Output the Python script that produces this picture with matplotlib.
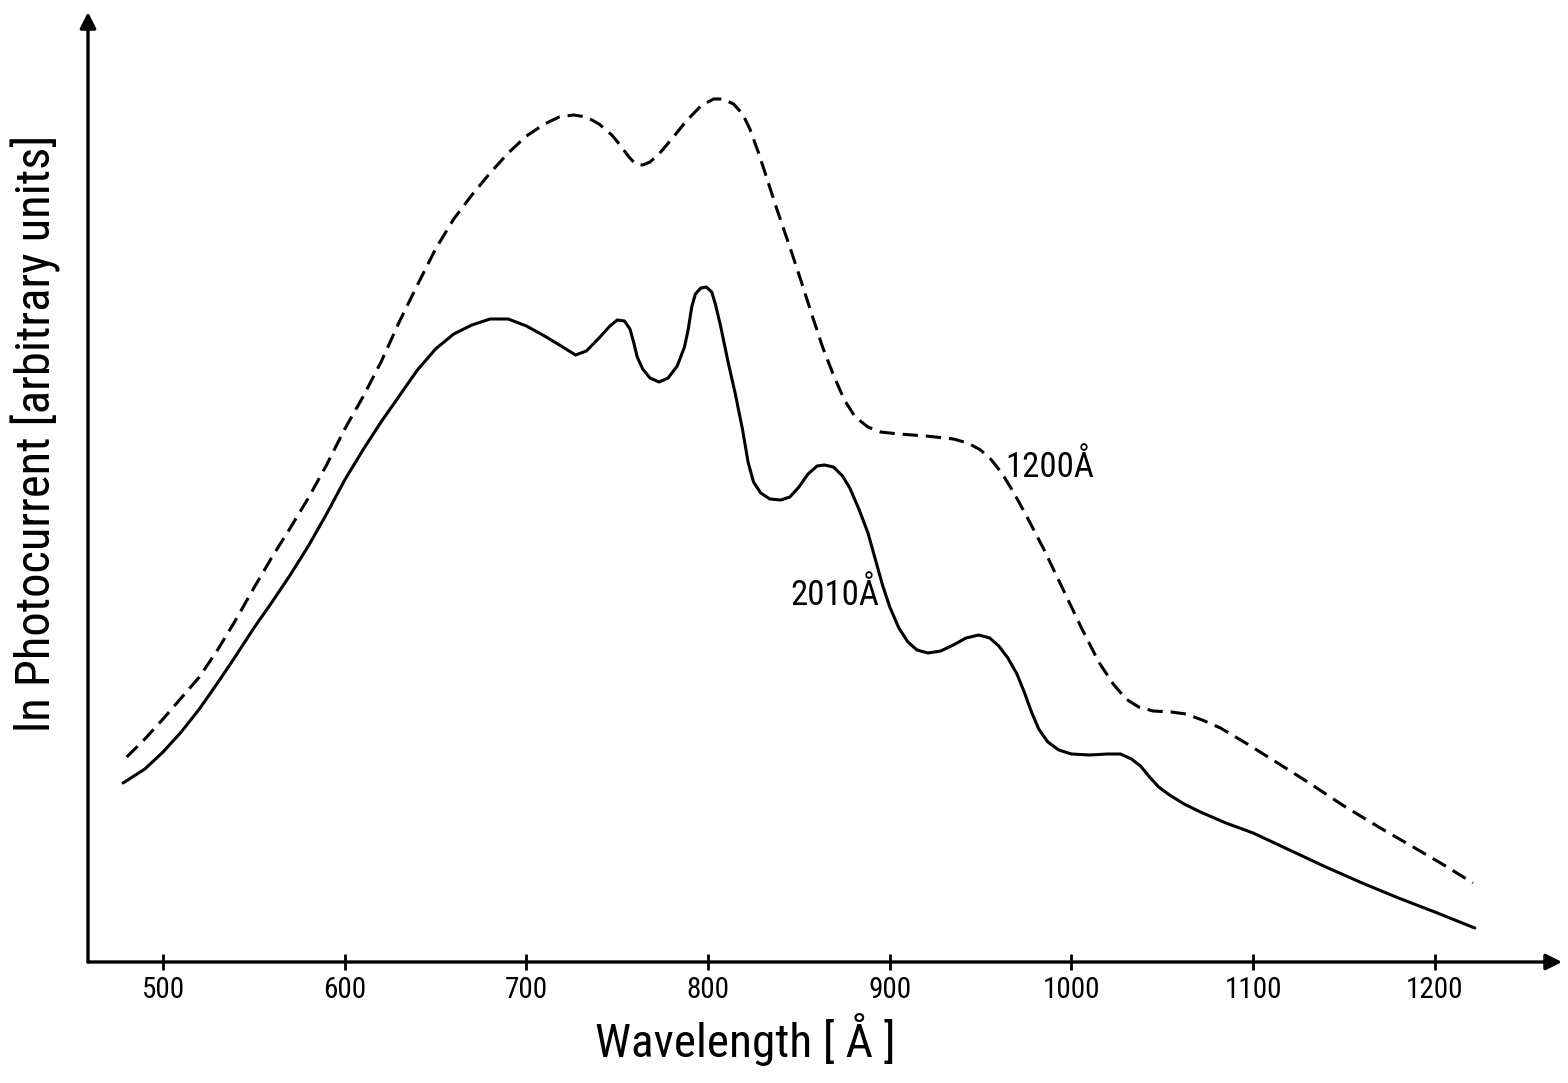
import matplotlib
matplotlib.use("Agg")
import matplotlib.pyplot as plt
from matplotlib import font_manager as fm

# ---- data ----
wl_2010 = [478, 490, 500, 510, 520, 530, 540, 550, 560, 570, 580, 590, 600, 610, 620, 630,
           640, 650, 660, 670, 680, 690, 700, 710, 720, 727, 733, 740, 746, 750, 754, 757,
           759, 761, 764, 768, 773, 778, 783, 787, 789, 791, 793, 796, 799, 802, 804, 807,
           811, 815, 819, 822, 825, 829, 834, 840, 845, 850, 855, 860, 864, 869, 874, 878,
           883, 888, 892, 896, 900, 905, 910, 915, 921, 928, 935, 942, 949, 955, 960, 965,
           970, 974, 978, 982, 987, 993, 1000, 1010, 1020, 1027, 1033, 1038, 1043, 1048,
           1054, 1062, 1071, 1085, 1100, 1120, 1140, 1160, 1180, 1200, 1222]
pc_2010 = [1.79, 1.93, 2.10, 2.30, 2.53, 2.79, 3.06, 3.34, 3.60, 3.87, 4.16, 4.48, 4.82, 5.12,
           5.40, 5.66, 5.92, 6.13, 6.28, 6.37, 6.43, 6.43, 6.36, 6.26, 6.15, 6.07, 6.11, 6.24,
           6.36, 6.42, 6.41, 6.33, 6.20, 6.05, 5.93, 5.84, 5.80, 5.84, 5.96, 6.15, 6.32, 6.55,
           6.68, 6.74, 6.75, 6.70, 6.58, 6.35, 6.00, 5.68, 5.32, 5.00, 4.80, 4.69, 4.63, 4.62,
           4.65, 4.75, 4.88, 4.96, 4.97, 4.95, 4.86, 4.74, 4.53, 4.29, 4.03, 3.77, 3.55, 3.34,
           3.20, 3.12, 3.09, 3.11, 3.17, 3.24, 3.27, 3.24, 3.16, 3.04, 2.88, 2.70, 2.50, 2.33,
           2.20, 2.12, 2.08, 2.07, 2.08, 2.08, 2.03, 1.96, 1.85, 1.75, 1.67, 1.58, 1.50, 1.39,
           1.29, 1.12, 0.95, 0.79, 0.64, 0.50, 0.34]

wl_1200 = [480, 490, 500, 510, 520, 530, 540, 550, 560, 570, 580, 590, 600, 610, 620, 630,
           640, 650, 660, 670, 680, 690, 700, 710, 718, 726, 733, 740, 747, 752, 756, 760,
           764, 768, 773, 780, 788, 796, 803, 808, 814, 819, 823, 828, 833, 838, 845, 851,
           857, 863, 869, 875, 881, 888, 895, 905, 920, 935, 943, 950, 956, 962, 968, 975,
           985, 995, 1005, 1015, 1023, 1030, 1037, 1045, 1055, 1063, 1072, 1082, 1095, 1110,
           1130, 1150, 1170, 1190, 1205, 1221]
pc_1200 = [2.05, 2.23, 2.43, 2.64, 2.85, 3.12, 3.42, 3.74, 4.05, 4.34, 4.64, 4.97, 5.33, 5.65,
           6.00, 6.40, 6.77, 7.13, 7.43, 7.67, 7.89, 8.09, 8.26, 8.38, 8.45, 8.47, 8.45, 8.38,
           8.27, 8.16, 8.06, 7.98, 7.97, 8.00, 8.08, 8.23, 8.41, 8.56, 8.63, 8.63, 8.58, 8.48,
           8.33, 8.08, 7.80, 7.52, 7.15, 6.82, 6.48, 6.15, 5.87, 5.62, 5.45, 5.35, 5.30, 5.28,
           5.26, 5.23, 5.19, 5.12, 5.02, 4.88, 4.70, 4.47, 4.12, 3.74, 3.36, 3.00, 2.78, 2.63,
           2.55, 2.51, 2.50, 2.48, 2.42, 2.34, 2.20, 2.03, 1.80, 1.56, 1.34, 1.13, 0.97, 0.79]

xticks = [500, 600, 700, 800, 900, 1000, 1100, 1200]
xlabel = "Wavelength [ Å ]"
ylabel = "ln Photocurrent [arbitrary units]"
label_1200 = "1200Å"
label_2010 = "2010Å"


def find_narrow_font():
    entries = fm.fontManager.ttflist
    prefs = ["Liberation Sans Narrow", "Roboto Condensed", "Open Sans Condensed",
             "Noto Sans Condensed", "DejaVu Sans Condensed", "Arial Narrow"]
    regular = (400, "normal", "regular", "book")
    for p in prefs:
        for f in entries:
            if f.name == p and f.style == "normal" and f.weight in regular:
                return f.fname
    for f in entries:
        st = f.stretch
        cond = (isinstance(st, str) and "condensed" in st) or \
               (isinstance(st, (int, float)) and st < 500)
        low = f.fname.lower()
        if cond and f.style == "normal" and f.weight in regular and "bold" not in low \
                and "italic" not in low and "oblique" not in low and "cjk" not in low:
            return f.fname
    for f in entries:
        low = f.fname.lower()
        if ("condensed" in low or "narrow" in low) and "bold" not in low \
                and "italic" not in low and "oblique" not in low and "light" not in low:
            return f.fname
    return None


path = find_narrow_font()
if path:
    fp = lambda size: fm.FontProperties(fname=path, size=size)
    scale = 1.0
else:
    fp = lambda size: fm.FontProperties(family=["DejaVu Sans"], size=size)
    scale = 0.8

fig = plt.figure(figsize=(15.68, 10.83), dpi=100)
ax = fig.add_axes([88 / 1568, (1083 - 962) / 1083, (1562 - 88) / 1568, (962 - 12) / 1083])
ax.set_xlim(458.7, 1270)
ax.set_ylim(0, 9.5)

ax.plot(wl_2010, pc_2010, color="black", lw=2.2, solid_capstyle="round",
        solid_joinstyle="round")
ax.plot(wl_1200, pc_1200, color="black", lw=2.2, linestyle=(0, (5, 2.6)))

for s in ax.spines.values():
    s.set_visible(False)

for xy in [(1, 0), (0, 1)]:
    ax.annotate("", xy=xy, xytext=(0, 0), xycoords="axes fraction",
                arrowprops=dict(arrowstyle="-|>", lw=2.4, color="black", mutation_scale=24,
                                shrinkA=0, shrinkB=0))

ax.set_xticks(xticks)
ax.set_xticklabels([str(t) for t in xticks], fontproperties=fp(21 * scale))
ax.tick_params(axis="x", direction="inout", length=12, width=2, pad=4)
ax.set_yticks([])

ax.set_xlabel(xlabel, fontproperties=fp(34 * scale), labelpad=4)
ax.xaxis.set_label_coords(0.446, -0.054)
ax.set_ylabel(ylabel, fontproperties=fp(35 * scale), labelpad=6)
ax.yaxis.set_label_coords(-0.0185, 0.557)

ax.text(1050 / 1.0 - 62, 4.95, label_1200, fontproperties=fp(25 * scale), ha="center",
        va="center")
ax.text(870, 3.67, label_2010, fontproperties=fp(25 * scale), ha="center", va="center")

fig.savefig("out.png", dpi=100, facecolor="white")
